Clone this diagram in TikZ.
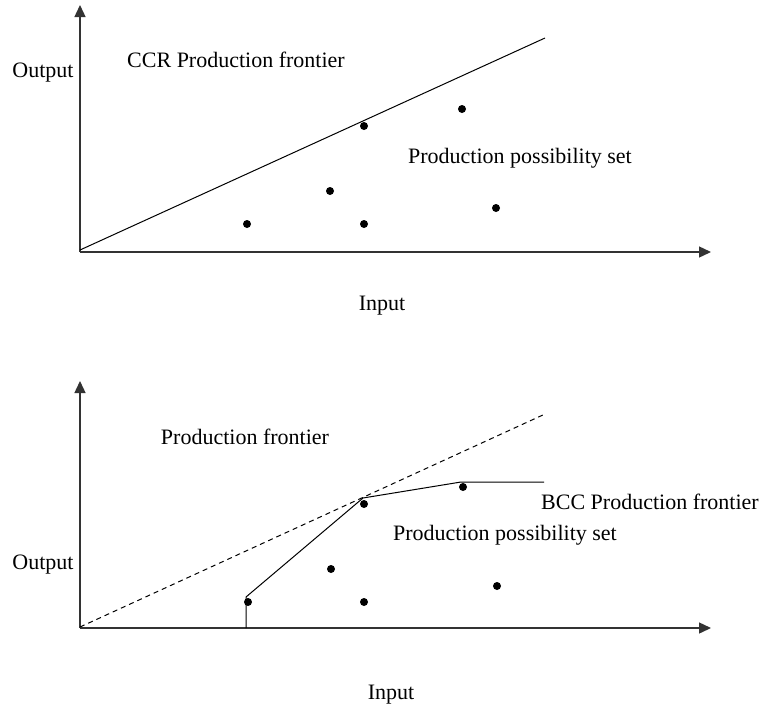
\documentclass[tikz,border=0pt]{standalone}
\usepackage{fontspec}
\setmainfont{Liberation Serif}
\usetikzlibrary{arrows.meta}
\begin{document}
\begin{tikzpicture}[x=1pt,y=-1pt,
  axis/.style={line width=1.4pt,draw=black!80,-{Triangle[length=12pt,width=11pt]}},
  frontier/.style={line width=1pt},
  dot/.style={circle,fill=black,inner sep=0pt,minimum size=8pt},
  lbl/.style={font=\fontsize{22}{25}\selectfont,inner sep=0pt}]
\useasboundingbox (0,0) rectangle (761,713);
% ---- top chart
\coordinate (o1) at (80,252);
\coordinate (yt1) at (80,5);
\coordinate (xt1) at (711,252);
\coordinate (c1s) at (80,250);
\coordinate (c1e) at (545,38);
\draw[axis] (o1) -- (yt1);
\draw[axis] (o1) -- (xt1);
\draw[frontier] (c1s) -- (c1e);
\node[dot] (a1) at (247,224) {};
\node[dot] (a2) at (330,191) {};
\node[dot] (a3) at (364,126) {};
\node[dot] (a4) at (364,224) {};
\node[dot] (a5) at (462,109) {};
\node[dot] (a6) at (496,208) {};
\node[lbl] (t1) at (43,73) {Output};
\node[lbl] (t2) at (236,60) {CCR Production frontier};
\node[lbl] (t3) at (520,158) {Production possibility set};
\node[lbl] (t4) at (382,306) {Input};
% ---- bottom chart
\coordinate (o2) at (80,628);
\coordinate (yt2) at (80,381);
\coordinate (xt2) at (711,628);
\coordinate (c2s) at (80,627);
\coordinate (c2e) at (545,414);
\coordinate (f0) at (246,628);
\coordinate (f1) at (246,597);
\coordinate (f2) at (363,498);
\coordinate (f3) at (461,482);
\coordinate (f4) at (544,482);
\draw[axis] (o2) -- (yt2);
\draw[axis] (o2) -- (xt2);
\draw[frontier,dash pattern=on 5pt off 4pt] (c2s) -- (c2e);
\draw[frontier] (f0) -- (f1) -- (f2) -- (f3) -- (f4);
\node[dot] (b1) at (248,602) {};
\node[dot] (b2) at (331,569) {};
\node[dot] (b3) at (364,504) {};
\node[dot] (b4) at (364,602) {};
\node[dot] (b5) at (463,487) {};
\node[dot] (b6) at (497,586) {};
\node[lbl] (s1) at (43,565) {Output};
\node[lbl] (s2) at (245,437) {Production frontier};
\node[lbl,anchor=west] (s3) at (541,502) {BCC Production frontier};
\node[lbl] (s4) at (505,535) {Production possibility set};
\node[lbl] (s5) at (391,695) {Input};
\end{tikzpicture}
\end{document}
